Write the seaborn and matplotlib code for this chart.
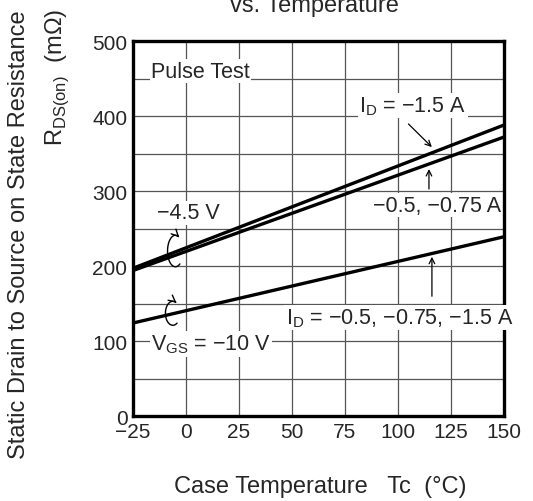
import matplotlib
matplotlib.use("Agg")
import matplotlib.pyplot as plt
import seaborn as sns
import numpy as np
import pandas as pd
from matplotlib.patches import FancyArrowPatch
from matplotlib.path import Path

# data
temps = [-25, 150]
r_vgs45_id15 = [197, 388]
r_vgs45_id05 = [194, 372]
r_vgs10 = [124, 239]

x_labels = ["\u221225", "0", "25", "50", "75", "100", "125", "150"]
y_ticks = [0, 100, 200, 300, 400, 500]

df = pd.DataFrame({
    "Tc": temps * 3,
    "R": r_vgs45_id15 + r_vgs45_id05 + r_vgs10,
    "curve": ["a"] * 2 + ["b"] * 2 + ["c"] * 2,
})

sns.set_style("white")
plt.rcParams["font.family"] = ["Liberation Sans", "DejaVu Sans"]

fig = plt.figure(figsize=(5.33, 5.02), dpi=100)
ax = fig.add_axes([0.2495, 0.1693, 0.6961, 0.7470])

sns.lineplot(data=df, x="Tc", y="R", units="curve", estimator=None,
             color="black", linewidth=2.4, ax=ax, legend=False)

ax.set_xlim(-25, 150)
ax.set_ylim(0, 500)
ax.set_xticks(range(-25, 151, 25))
ax.set_xticklabels(x_labels)
ax.set_yticks(y_ticks)
ax.set_yticks(range(0, 501, 50), minor=True)
ax.grid(True, which="both", color="#555555", linewidth=0.9)
ax.tick_params(axis="both", which="both", length=0, labelsize=15, pad=4)
for sp in ax.spines.values():
    sp.set_linewidth(2.4)
    sp.set_color("black")
ax.set_xlabel("")
ax.set_ylabel("")

fs = 15.5
bbox = dict(facecolor="white", edgecolor="none", pad=1)
ax.text(-16.5, 460, "Pulse Test", fontsize=fs, va="center", bbox=bbox)
ax.text(-13.5, 271, "\u22124.5 V", fontsize=fs, va="center", bbox=bbox)
ax.text(-16.5, 96, "V$_{\\mathregular{GS}}$ = \u221210 V", fontsize=fs, va="center", bbox=bbox)
ax.text(107, 414, "I$_{\\mathregular{D}}$ = \u22121.5 A", fontsize=fs, va="center", ha="center", bbox=bbox)
ax.text(118.4, 281, "\u22120.5, \u22120.75 A", fontsize=fs, va="center", ha="center", bbox=bbox)
ax.text(100.7, 131, "I$_{\\mathregular{D}}$ = \u22120.5, \u22120.75, \u22121.5 A", fontsize=fs,
        va="center", ha="center", bbox=bbox)

arrow = dict(arrowstyle="->", color="black", linewidth=0.9, mutation_scale=10)
ax.annotate("", xy=(116.9, 356), xytext=(104, 392), arrowprops=arrow)
ax.annotate("", xy=(114.6, 333), xytext=(114.6, 299), arrowprops=arrow)
ax.annotate("", xy=(116, 216), xytext=(116, 156), arrowprops=arrow)

# curled arrows wrapping the -4.5 V and -10 V pairs
t = np.radians(np.linspace(-55, -300, 40))
for cx, cy, a, b in [(-5.0, 220, 3.7, 21), (-6.2, 137, 3.5, 16)]:
    verts = np.column_stack([cx + a * np.cos(t), cy + b * np.sin(t)])
    ax.add_patch(FancyArrowPatch(path=Path(verts), arrowstyle="->",
                                 mutation_scale=12, color="black", linewidth=1.0))

fig.text(0.59, 0.976, "vs. Temperature", fontsize=17, ha="center", va="baseline")
fig.text(0.60, 0.03, "Case Temperature   Tc  (\u00b0C)", fontsize=17, ha="center", va="center")
fig.text(0.036, 0.532, "Static Drain to Source on State Resistance", fontsize=17,
         rotation=90, ha="center", va="center")
fig.text(0.107, 0.845, "R$_{\\mathregular{DS(on)}}$  (m\u03a9)", fontsize=17,
         rotation=90, ha="center", va="center")

fig.savefig("out.png", dpi=100)
